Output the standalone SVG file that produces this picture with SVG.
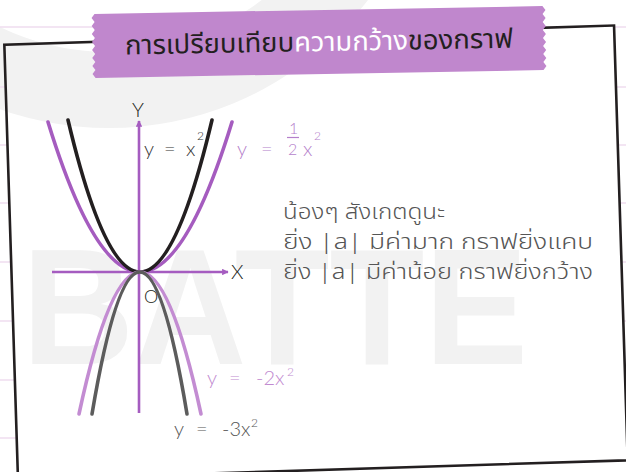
<svg xmlns="http://www.w3.org/2000/svg" width="626" height="472" viewBox="0 0 626 472">
<defs>
<style>
.pink{stroke:#efdcef;stroke-width:1.6}
.wm{fill:#f2f2f2}
.axis{stroke:#a55cc0;stroke-width:2.6;fill:none}
.curve{fill:none;stroke-width:3.6;stroke-linecap:round}
.lbl{font-family:Lato,'Open Sans','Liberation Sans',sans-serif;font-weight:300;font-size:20px}
.sup{font-family:Lato,'Open Sans','Liberation Sans',sans-serif;font-weight:300;font-size:12px}
.frac{font-family:Lato,'Open Sans','Liberation Sans',sans-serif;font-weight:300;font-size:16px}
.thai{font-family:'Noto Sans Thai','Noto Sans','Liberation Sans',sans-serif}
.body{font-weight:300;font-size:22px;fill:#555;white-space:pre}
</style>
<clipPath id="frameClip"><rect x="11" y="35" width="610" height="435" transform="rotate(-1.8 316 252)"/></clipPath>
<marker id="arr" viewBox="0 0 10 10" refX="9" refY="5" markerWidth="6.5" markerHeight="6.5" markerUnits="userSpaceOnUse" orient="auto"><path d="M0,0 L10,5 L0,10 z" fill="#a55cc0"/></marker>
</defs>
<rect width="626" height="472" fill="#ffffff"/>
<!-- background watermark ring -->
<g id="watermark-ring">
<path d="M-217,-198 a326,326 0 1,0 652,0 a326,326 0 1,0 -652,0 Z M-141,-198 a250,250 0 1,1 500,0 a250,250 0 1,1 -500,0 Z" fill="#f2f2f2" fill-rule="evenodd"/>
</g>
<!-- notebook lines -->
<g id="lines">
<line class="pink" x1="0" y1="27" x2="626" y2="27"/>
<line class="pink" x1="0" y1="87" x2="626" y2="87"/>
<line class="pink" x1="0" y1="145" x2="626" y2="145"/>
<line class="pink" x1="0" y1="203" x2="626" y2="203"/>
<line class="pink" x1="0" y1="262" x2="626" y2="262"/>
<line class="pink" x1="0" y1="321" x2="626" y2="321"/>
<line class="pink" x1="0" y1="380" x2="626" y2="380"/>
<line class="pink" x1="0" y1="438" x2="626" y2="438"/>
</g>
<!-- frame -->
<g id="frame">
<rect x="11" y="35" width="610" height="435" transform="rotate(-1.8 316 252)" fill="#ffffff"/>
<g clip-path="url(#frameClip)">
<path d="M-217,-198 a326,326 0 1,0 652,0 a326,326 0 1,0 -652,0 Z M-141,-198 a250,250 0 1,1 500,0 a250,250 0 1,1 -500,0 Z" fill="#f2f2f2" fill-rule="evenodd"/>
<text x="22" y="364" class="wm" font-family="'Liberation Sans',sans-serif" font-weight="bold" font-size="166" textLength="506" lengthAdjust="spacingAndGlyphs">BATTE</text>
</g>
<rect x="11" y="35" width="610" height="435" transform="rotate(-1.8 316 252)" fill="none" stroke="#231f20" stroke-width="2.6"/>
</g>
<!-- title banner -->
<g id="title" transform="rotate(-1 319 42)">
<path d="M95,10 H543 L546,14 L543,18 L546,22 L543,26 L546,30 L543,34 L546,38 L543,42 L546,46 L543,50 L546,54 L543,58 L546,62 L543,66 L546,70 L543,74 H95 L92,70 L95,66 L92,62 L95,58 L92,54 L95,50 L92,46 L95,42 L92,38 L95,34 L92,30 L95,26 L92,22 L95,18 L92,14 Z" fill="#c087cd"/>
<text x="125" y="51" class="thai" font-size="27" font-weight="400" textLength="388" lengthAdjust="spacingAndGlyphs"><tspan fill="#231f20">การเปรียบเทียบ</tspan><tspan fill="#ffffff">ความกว้าง</tspan><tspan fill="#231f20">ของกราฟ</tspan></text>
</g>
<!-- axes -->
<g id="axes">
<line class="axis" x1="52" y1="272" x2="228" y2="272" marker-end="url(#arr)"/>
<line class="axis" x1="139" y1="413" x2="139" y2="121" marker-end="url(#arr)"/>
<text x="132" y="117" class="lbl" fill="#231f20">Y</text>
<text x="231" y="279" class="lbl" fill="#231f20">X</text>
<text x="144" y="303" class="lbl" style="font-size:18px" fill="#231f20">O</text>
</g>
<!-- curves -->
<g id="connectors">
<path id="c-half" class="curve" stroke="#a55cbf" d="M48,122 Q140,422 232,122"/>
<path id="c-one" class="curve" stroke="#231f20" d="M68,120 Q140,424 212,120"/>
<path id="c-m2" class="curve" stroke="#c38cd2" d="M79,414 Q140,130 201,414"/>
<path id="c-m3" class="curve" stroke="#5c5c5c" d="M92,414 Q140,130 187,414"/>
</g>
<!-- labels -->
<g id="label-x2" fill="#333333">
<text x="144" y="156" class="lbl">y</text>
<text x="164" y="156" class="lbl">=</text>
<text x="186" y="156" class="lbl">x</text>
<text x="197" y="140" class="sup">2</text>
</g>
<g id="label-half" fill="#b57fcb">
<text x="237" y="156" class="lbl">y</text>
<text x="261" y="156" class="lbl">=</text>
<text x="289" y="134" class="frac">1</text>
<line x1="287" y1="137.5" x2="299" y2="137.5" stroke="#b57fcb" stroke-width="1.2"/>
<text x="288" y="155" class="frac">2</text>
<text x="303" y="156" class="lbl">x</text>
<text x="314" y="140" class="sup">2</text>
</g>
<g id="label-m2" fill="#c18ad0">
<text x="207" y="385" class="lbl">y</text>
<text x="229" y="385" class="lbl">=</text>
<text x="256" y="385" class="lbl">-2x</text>
<text x="287" y="376" class="sup">2</text>
</g>
<g id="label-m3" fill="#555555">
<text x="174" y="436" class="lbl">y</text>
<text x="196" y="436" class="lbl">=</text>
<text x="222" y="436" class="lbl">-3x</text>
<text x="251" y="427" class="sup">2</text>
</g>
<!-- note text -->
<g id="note" class="thai body">
<text x="283" y="219" textLength="162" lengthAdjust="spacingAndGlyphs">น้องๆ  สังเกตดูนะ</text>
<text x="283" y="249" textLength="310" lengthAdjust="spacingAndGlyphs">ยิ่ง  |a|  มีค่ามาก  กราฟยิ่งแคบ</text>
<text x="283" y="279" textLength="310" lengthAdjust="spacingAndGlyphs">ยิ่ง  |a|  มีค่าน้อย  กราฟยิ่งกว้าง</text>
</g>
</svg>
